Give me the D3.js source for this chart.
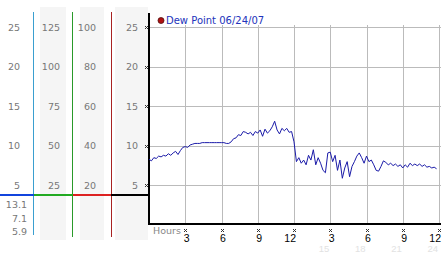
<!DOCTYPE html>
<html>
<head>
<meta charset="utf-8">
<script src="https://cdn.jsdelivr.net/npm/d3@7/dist/d3.min.js"></script>
<style>
  body { margin: 0; background: #fff; }
  svg { display: block; font-family: "DejaVu Sans", sans-serif; }
</style>
</head>
<body>
<svg class="chart" width="442" height="253"></svg>
<script>
const dewTitle = "Dew Point 06/24/07";
const stepHours = 0.2; // one reading every 12 minutes

// dew point readings from 00:00
const dewPoint = [
  8.3, 8.1, 8.5, 8.4, 8.7,
  8.6, 8.8, 8.7, 9.0, 8.8,
  9.1, 9.3, 8.9, 9.4, 9.8,
  9.9, 9.8, 10.1, 10.2, 10.3,
  10.3, 10.3, 10.4, 10.4, 10.4,
  10.4, 10.4, 10.4, 10.4, 10.4,
  10.4, 10.4, 10.3, 10.3, 10.5,
  10.9, 11.0, 11.4, 11.3, 11.8,
  11.7, 11.5, 11.7, 11.3, 11.8,
  11.6, 12.0, 11.2, 12.1, 11.6,
  11.9, 12.4, 13.1, 12.0, 11.5,
  12.2, 11.9, 12.2, 11.7, 11.8,
  10.5, 8.0, 8.5, 7.8, 8.2,
  7.6, 8.8, 8.2, 9.5, 7.6,
  8.5, 7.8, 6.9, 6.6, 9.1,
  9.2, 8.0, 8.8, 6.9, 8.2,
  5.9, 7.2, 8.0, 6.1, 7.4,
  8.0, 8.7, 9.1, 8.5, 7.8,
  8.7, 8.0, 8.2, 7.6, 6.9,
  6.8, 7.4, 8.1, 7.9, 7.6,
  7.8, 7.5, 7.7, 7.4, 7.6,
  7.2, 7.6, 7.3, 7.8, 7.5,
  7.7, 7.5, 7.7, 7.4, 7.6,
  7.3, 7.4, 7.2, 7.3, 7.1
];

const yTicks = [5, 10, 15, 20, 25];
const col2Labels = [25, 50, 75, 100, 125];
const col3Labels = [20, 40, 60, 80, 100];
const statLabels = ["13.1", "7.1", "5.9"];

const hourTicks = [3, 6, 9, 12, 15, 18, 21, 24];
const hourLabels = ["3", "6", "9", "12", "3", "6", "9", "12"];
const hour24Labels = ["", "", "", "", "15", "18", "21", "24"];

const svg = d3.select("svg.chart");

const x = d3.scaleLinear().domain([0, 24]).range([149, 439]);
const y = d3.scaleLinear().domain([0, 25]).range([225, 27]);

// left scale panel backgrounds
const panelCols = [[40, 26], [80, 24], [115, 33]];
svg.selectAll("rect.panel")
  .data(panelCols)
  .enter()
  .append("rect")
  .attr("x", d => d[0])
  .attr("y", 7)
  .attr("width", d => d[1])
  .attr("height", 233)
  .attr("fill", "#f5f5f5");

// coloured separators
const sepLines = [[33, "#3a9fd0", 235], [72, "#2a9a2a", 237], [111, "#a82222", 237]];
svg.selectAll("line.sep")
  .data(sepLines)
  .enter()
  .append("line")
  .attr("x1", d => d[0] + 0.5)
  .attr("x2", d => d[0] + 0.5)
  .attr("y1", 12)
  .attr("y2", d => d[2])
  .attr("stroke", d => d[1])
  .attr("stroke-width", 1);

const baseY = Math.round(y(3.75));
const baseSegs = [[0, 34, "#1144dd"], [34, 73, "#22aa22"], [73, 111, "#dd2222"], [111, 149, "#000"]];
svg.selectAll("line.base")
  .data(baseSegs)
  .enter()
  .append("line")
  .attr("x1", d => d[0])
  .attr("x2", d => d[1])
  .attr("y1", baseY)
  .attr("y2", baseY)
  .attr("stroke", d => d[2])
  .attr("stroke-width", 2);

// panel labels
function colText(data, xr) {
  svg.append("g")
    .selectAll("text")
    .data(data)
    .enter()
    .append("text")
    .attr("x", xr)
    .attr("y", (d, i) => y(yTicks[i]) + 3.5)
    .attr("text-anchor", "end")
    .attr("font-size", 9.5)
    .attr("fill", "#777")
    .text(d => d);
}
colText(yTicks, 20);
colText(col2Labels, 60);
colText(col3Labels, 96);
colText(yTicks, 138);

svg.append("g")
  .selectAll("text")
  .data(statLabels)
  .enter()
  .append("text")
  .attr("x", 27)
  .attr("y", (d, i) => 208 + i * 13.5)
  .attr("text-anchor", "end")
  .attr("font-size", 9.5)
  .attr("fill", "#777")
  .text(d => d);

// grid
svg.append("g")
  .selectAll("line")
  .data(yTicks)
  .enter()
  .append("line")
  .attr("x1", 150)
  .attr("x2", 441)
  .attr("y1", d => Math.round(y(d)) + 0.5)
  .attr("y2", d => Math.round(y(d)) + 0.5)
  .attr("stroke", "#bbb");

svg.append("g")
  .selectAll("line")
  .data(hourTicks)
  .enter()
  .append("line")
  .attr("x1", d => Math.round(x(d)) + 0.5)
  .attr("x2", d => Math.round(x(d)) + 0.5)
  .attr("y1", 25)
  .attr("y2", 224)
  .attr("stroke", "#bbb");

// axis lines
svg.append("line")
  .attr("x1", 149).attr("x2", 149)
  .attr("y1", 13).attr("y2", 225)
  .attr("stroke", "#000").attr("stroke-width", 2);
svg.append("line")
  .attr("x1", 148).attr("x2", 441)
  .attr("y1", 224).attr("y2", 224)
  .attr("stroke", "#000").attr("stroke-width", 2);

// tiny checker tick marks
const markDots = [[0, 0], [2, 0], [1, 1], [0, 2], [2, 2]];
function tickMark(cx, cy) {
  svg.append("g")
    .attr("transform", "translate(" + cx + "," + cy + ")")
    .selectAll("rect")
    .data(markDots)
    .enter()
    .append("rect")
    .attr("x", d => d[0])
    .attr("y", d => d[1])
    .attr("width", 1)
    .attr("height", 1)
    .attr("fill", "#333");
}
yTicks.forEach(d => tickMark(145, Math.round(y(d)) - 1));
hourTicks.forEach(d => tickMark(Math.round(x(d)) - 1, 229));

// hour labels
svg.append("text")
  .attr("x", 153)
  .attr("y", 234)
  .attr("font-size", 9.5)
  .attr("fill", "#888")
  .text("Hours");

svg.append("g")
  .selectAll("text")
  .data(hourTicks)
  .enter()
  .append("text")
  .attr("x", (d, i) => hourLabels[i].length > 1 ? Math.min(x(d) + 2, 441) : x(d) + 1.5)
  .attr("y", 242)
  .attr("text-anchor", (d, i) => hourLabels[i].length > 1 ? "end" : "middle")
  .attr("font-family", "'Liberation Sans', sans-serif")
  .attr("font-size", 10.5)
  .attr("fill", "#000")
  .text((d, i) => hourLabels[i]);

svg.append("g")
  .selectAll("text")
  .data(hourTicks)
  .enter()
  .append("text")
  .attr("x", d => Math.min(x(d) - 1, 441))
  .attr("y", 252)
  .attr("text-anchor", "end")
  .attr("font-family", "'Liberation Sans', sans-serif")
  .attr("font-size", 9.5)
  .attr("fill", "#e2e2e2")
  .text((d, i) => hour24Labels[i]);

// dew point line
const line = d3.line()
  .x((d, i) => x(i * stepHours))
  .y(d => y(d));

svg.append("path")
  .datum(dewPoint)
  .attr("d", line)
  .attr("fill", "none")
  .attr("stroke", "#1a1aa8")
  .attr("stroke-width", 1);

// legend
svg.append("circle")
  .attr("cx", 161)
  .attr("cy", 20.5)
  .attr("r", 3)
  .attr("fill", "#b01010")
  .attr("stroke", "#501010")
  .attr("stroke-width", 0.8);

svg.append("text")
  .attr("x", 166)
  .attr("y", 24)
  .attr("font-size", 10)
  .attr("fill", "#2233bb")
  .text(dewTitle);
</script>
</body>
</html>
